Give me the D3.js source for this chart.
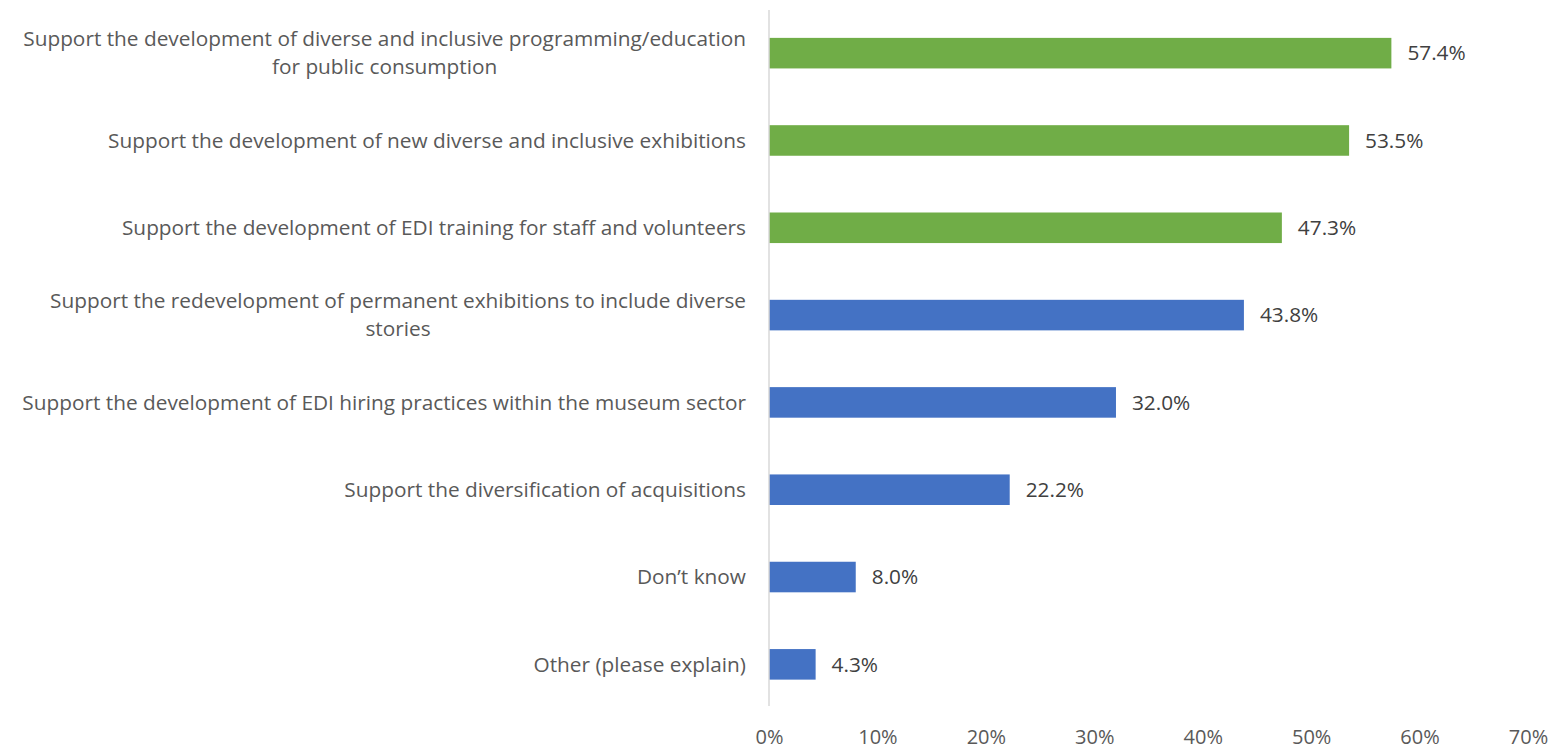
<!DOCTYPE html>
<html>
<head>
<meta charset="utf-8">
<script src="https://cdn.jsdelivr.net/npm/d3@7"></script>
<style>
  body { margin: 0; background: #fff; }
  svg { display: block; font-family: "Open Sans", sans-serif; }
</style>
</head>
<body>
<svg id="chart" width="1551" height="749"></svg>
<script>
// Data
const categories = [
    ["Support the development of diverse and inclusive programming/education", "for public consumption"],
    ["Support the development of new diverse and inclusive exhibitions"],
    ["Support the development of EDI training for staff and volunteers"],
    ["Support the redevelopment of permanent exhibitions to include diverse", "stories"],
    ["Support the development of EDI hiring practices within the museum sector"],
    ["Support the diversification of acquisitions"],
    ["Don\u2019t know"],
    ["Other (please explain)"]
];
const values = [57.4, 53.5, 47.3, 43.8, 32.0, 22.2, 8.0, 4.3];
const highlighted = [true, true, true, false, false, false, false, false];
const xTicks = [0, 10, 20, 30, 40, 50, 60, 70];

const svg = d3.select("#chart");
const x0 = 769, x1 = 1528;

const x = d3.scaleLinear().domain([0, 70]).range([x0, x1]);
const y = d3.scaleBand()
    .domain(d3.range(categories.length))
    .range([9.5, 708])
    .paddingInner(0.65)
    .paddingOuter(0.325);

const color = d => d ? "#70ad47" : "#4472c4";

// bars
svg.selectAll("rect.bar")
    .data(values)
    .enter()
    .append("rect")
    .attr("class", "bar")
    .attr("x", x(0))
    .attr("y", (d, i) => y(i))
    .attr("width", d => x(d) - x(0))
    .attr("height", y.bandwidth())
    .attr("fill", (d, i) => color(highlighted[i]));

// vertical axis line
svg.append("line")
    .attr("x1", x0).attr("x2", x0)
    .attr("y1", 10).attr("y2", 706)
    .attr("stroke", "#d9d9d9")
    .attr("stroke-width", 1.5);

// category labels
const labelSize = 20.8;
const labelRight = 746;
categories.forEach((lines, i) => {
    const cy = y(i) + y.bandwidth() / 2;
    if (lines.length === 1) {
        svg.append("text")
            .attr("x", labelRight)
            .attr("y", cy)
            .attr("dy", "0.35em")
            .attr("text-anchor", "end")
            .attr("font-size", labelSize)
            .attr("fill", "#595959")
            .text(lines[0]);
    } else {
        const first = svg.append("text")
            .attr("x", labelRight)
            .attr("y", cy - 14)
            .attr("dy", "0.35em")
            .attr("text-anchor", "end")
            .attr("font-size", labelSize)
            .attr("fill", "#595959")
            .text(lines[0]);
        const w = first.node().getComputedTextLength();
        svg.append("text")
            .attr("x", labelRight - w / 2)
            .attr("y", cy + 14)
            .attr("dy", "0.35em")
            .attr("text-anchor", "middle")
            .attr("font-size", labelSize)
            .attr("fill", "#595959")
            .text(lines[1]);
    }
});

// value labels
svg.selectAll("text.value")
    .data(values)
    .enter()
    .append("text")
    .attr("class", "value")
    .attr("x", d => x(d) + 16)
    .attr("y", (d, i) => y(i) + y.bandwidth() / 2)
    .attr("dy", "0.35em")
    .attr("font-size", 20.8)
    .attr("fill", "#404040")
    .text(d => d.toFixed(1) + "%");

// x axis tick labels
const xAxis = svg.append("g")
    .attr("transform", "translate(0,0)")
    .call(d3.axisBottom(x).tickValues(xTicks).tickSize(0).tickFormat(d => d + "%"));
xAxis.select(".domain").remove();
xAxis.selectAll("text")
    .attr("y", 744)
    .attr("dy", 0)
    .attr("font-family", "\"Open Sans\", sans-serif")
    .attr("font-size", 20)
    .attr("fill", "#595959");
</script>
</body>
</html>
